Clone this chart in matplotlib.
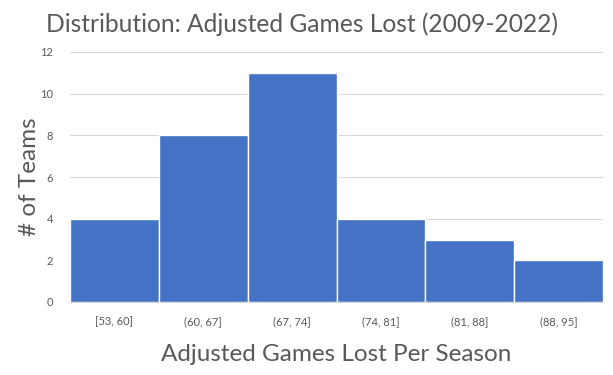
import matplotlib
matplotlib.use("Agg")
import matplotlib.pyplot as plt
import numpy as np

categories = ["[53, 60]", "(60, 67]", "(67, 74]", "(74, 81]", "(81, 88]", "(88, 95]"]
counts = [4, 8, 11, 4, 3, 2]
yticks = [0, 2, 4, 6, 8, 10, 12]

plt.rcParams['font.family'] = ['Lato', 'DejaVu Sans']
gray = "#595959"

fig = plt.figure(figsize=(6.13, 3.75), dpi=100)
ax = fig.add_axes([70/613, 1-302/375, 533/613, 250/375])

x = np.arange(len(categories))
ax.bar(x, counts, width=1.0, color="#4472C4", edgecolor="white", linewidth=1.0, zorder=3)
ax.set_xlim(-0.5, len(categories)-0.5)
ax.set_ylim(0, 12)
ax.set_yticks(yticks)
ax.set_xticks(x)
ax.set_xticklabels(categories)
ax.tick_params(axis='both', length=0, labelsize=8, labelcolor=gray)
ax.tick_params(axis='x', pad=10)
ax.tick_params(axis='y', pad=12)
ax.grid(axis='y', color="#D9D9D9", linewidth=0.8, zorder=0)
for s in ["top", "right", "left"]:
    ax.spines[s].set_visible(False)
ax.spines["bottom"].set_color("#D9D9D9")

fig.text(302/613, 1-24/375, "Distribution: Adjusted Games Lost (2009-2022)",
         ha="center", va="center", fontsize=17.7, color=gray)
ax.set_xlabel("Adjusted Games Lost Per Season", fontsize=17.5, color=gray, labelpad=12)
fig.text(30/613, 1-177/375, "# of Teams", rotation=90, ha="center", va="center",
         fontsize=17.5, color=gray)

fig.savefig("out.png", dpi=100)
